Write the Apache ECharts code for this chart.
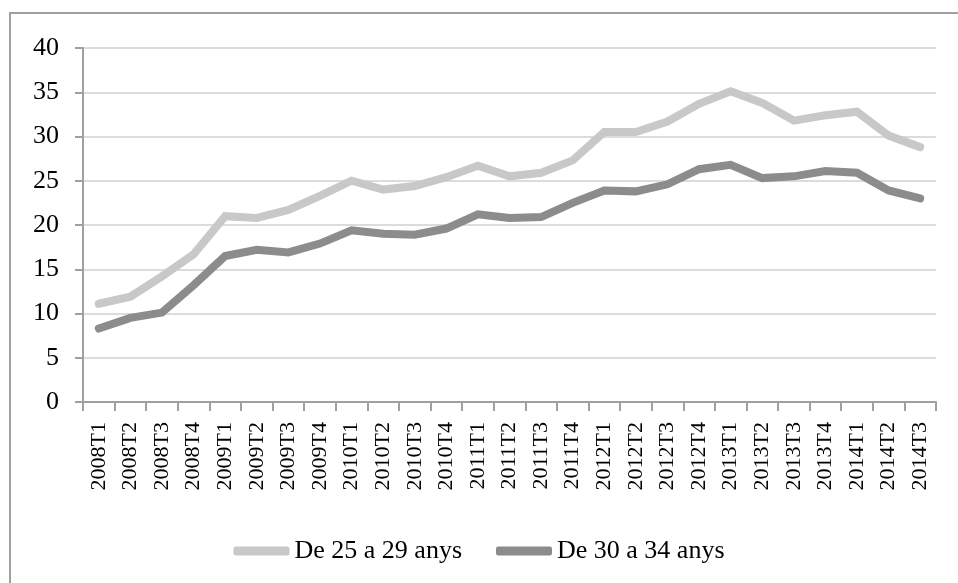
<!DOCTYPE html>
<html><head><meta charset="utf-8">
<script src="https://cdn.jsdelivr.net/npm/echarts@6/dist/echarts.min.js"></script>
<style>html,body{margin:0;padding:0;background:#fff}#c{width:958px;height:583px}</style>
</head><body><div id="c"></div>
<script>
const categories = ['2008T1','2008T2','2008T3','2008T4','2009T1','2009T2','2009T3','2009T4','2010T1','2010T2','2010T3','2010T4','2011T1','2011T2','2011T3','2011T4','2012T1','2012T2','2012T3','2012T4','2013T1','2013T2','2013T3','2013T4','2014T1','2014T2','2014T3'];
const age25to29 = [11.1,11.9,14.2,16.7,21.0,20.8,21.7,23.3,25.0,24.0,24.4,25.4,26.7,25.5,25.9,27.3,30.5,30.5,31.7,33.7,35.1,33.8,31.8,32.4,32.8,30.1,28.8];
const age30to34 = [8.3,9.5,10.1,13.2,16.5,17.2,16.9,17.9,19.4,19.0,18.9,19.6,21.2,20.8,20.9,22.5,23.9,23.8,24.6,26.3,26.8,25.3,25.5,26.1,25.9,23.9,23.0];
const seriesNames = ['De 25 a 29 anys','De 30 a 34 anys'];
const yTicks = {min:0, max:40, interval:5};

const chart = echarts.init(document.getElementById('c'), null, {renderer:'canvas'});
const font = 'Liberation Serif';
chart.setOption({
  animation:false,
  backgroundColor:'#fff',
  graphic:[{type:'rect', shape:{x:10,y:13,width:1000,height:1000}, style:{fill:'none', stroke:'#a0a0a0', lineWidth:2}, silent:true}],
  grid:{left:83, right:22, top:48, bottom:181, containLabel:false},
  legend:{
    bottom:null, top:533, left:'center',
    data:seriesNames,
    icon:'roundRect', itemWidth:56, itemHeight:9, itemGap:34,
    textStyle:{fontFamily:font, fontSize:26, color:'#000'}
  },
  xAxis:{
    type:'category', data:categories, boundaryGap:true,
    axisLine:{lineStyle:{color:'#a0a0a0', width:2}},
    axisTick:{show:true, length:9, lineStyle:{color:'#a0a0a0', width:2}},
    axisLabel:{rotate:90, interval:0, margin:20, fontFamily:font, fontSize:22, color:'#000'},
    splitLine:{show:false}
  },
  yAxis:{
    type:'value', min:yTicks.min, max:yTicks.max, interval:yTicks.interval,
    axisLine:{show:true, lineStyle:{color:'#a0a0a0', width:2}},
    axisTick:{show:true, length:8, lineStyle:{color:'#a0a0a0', width:2}},
    axisLabel:{margin:24, fontFamily:font, fontSize:26, color:'#000'},
    splitLine:{lineStyle:{color:'#dcdcdc', width:2}}
  },
  series:[
    {name:seriesNames[0], type:'line', data:age25to29, showSymbol:false, symbol:'none',
     itemStyle:{color:'#c8c8c8'}, lineStyle:{color:'#c8c8c8', width:8, cap:'round', join:'miter'}},
    {name:seriesNames[1], type:'line', data:age30to34, showSymbol:false, symbol:'none',
     itemStyle:{color:'#8c8c8c'}, lineStyle:{color:'#8c8c8c', width:8, cap:'round', join:'miter'}}
  ]
});
</script></body></html>
